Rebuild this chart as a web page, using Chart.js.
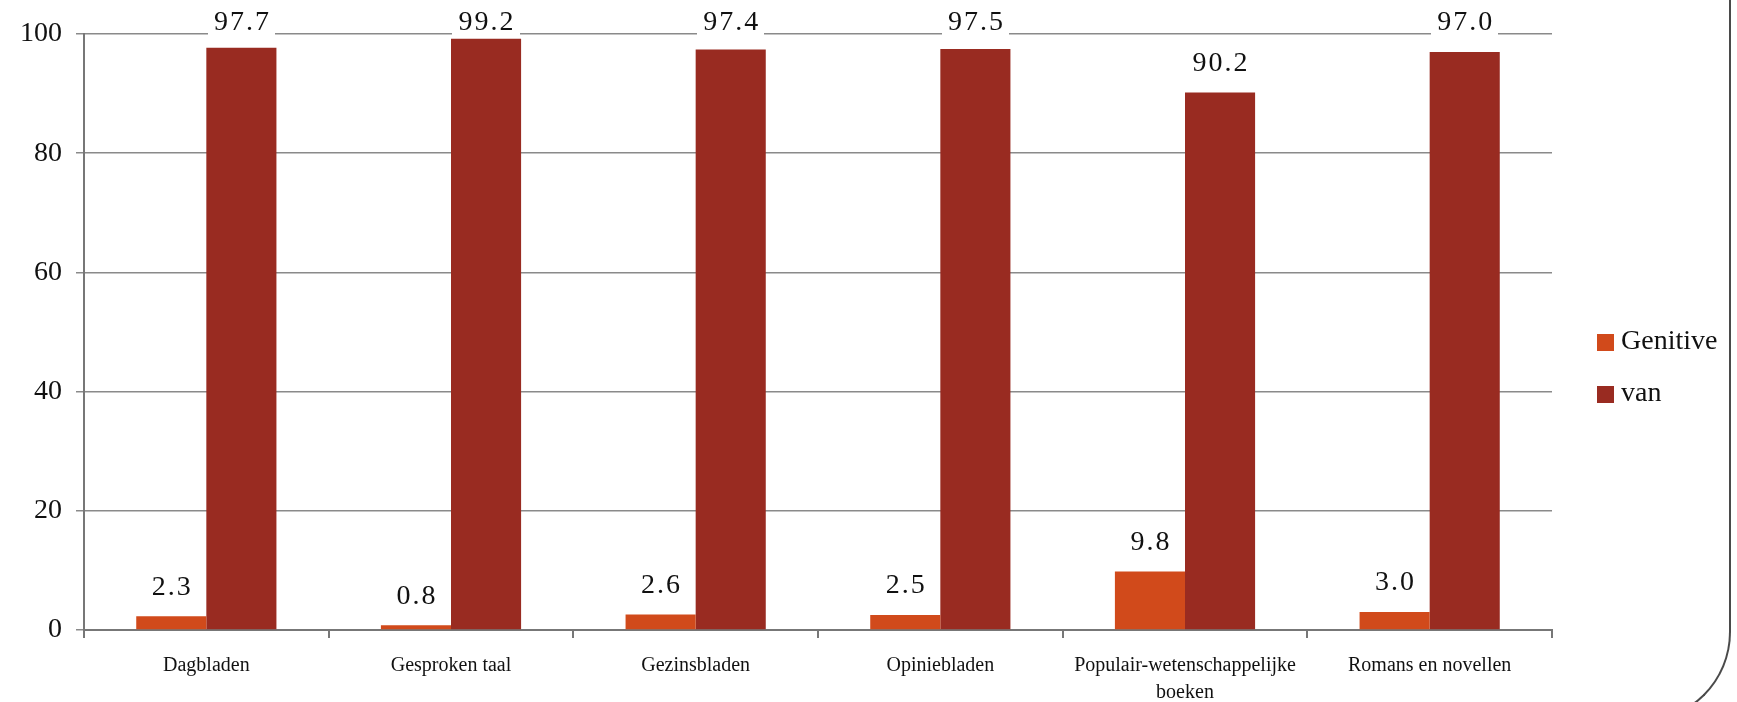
<!DOCTYPE html>
<html>
<head>
<meta charset="utf-8">
<script src="https://cdn.jsdelivr.net/npm/chart.js@4.4.1/dist/chart.umd.min.js"></script>
<style>
  html, body { margin: 0; padding: 0; background: #fff; overflow: hidden; }
  #wrap { position: relative; width: 1737px; height: 702px; }
  #frame {
    position: absolute; left: 1500px; top: -10px; width: 229px; height: 730px;
    border-right: 2px solid #4a4a4a; border-bottom: 2px solid #4a4a4a;
    border-bottom-right-radius: 90px; pointer-events: none;
  }
</style>
</head>
<body>
<div id="wrap">
  <canvas id="chart"></canvas>
  <div id="frame"></div>
</div>
<script>
// Share of genitive vs. "van" constructions per text genre (%)
const categories = ['Dagbladen', 'Gesproken taal', 'Gezinsbladen', 'Opiniebladen',
                    ['Populair-wetenschappelijke', 'boeken'], 'Romans en novellen'];
const genitive = [2.3, 0.8, 2.6, 2.5, 9.8, 3.0];
const van = [97.7, 99.2, 97.4, 97.5, 90.2, 97.0];
const yTicks = [0, 20, 40, 60, 80, 100];

const SERIF = '"Liberation Serif", "DejaVu Serif", serif';

// value above each bar, on a white box that cuts through the gridlines
const valueLabels = {
  id: 'valueLabels',
  afterDatasetsDraw(chart) {
    const ctx = chart.ctx;
    ctx.save();
    ctx.font = '28px ' + SERIF;
    ctx.letterSpacing = '2px';
    ctx.textAlign = 'center';
    ctx.textBaseline = 'middle';
    chart.data.datasets.forEach((ds, i) => {
      chart.getDatasetMeta(i).data.forEach((bar, j) => {
        const y = Math.max(bar.y - 29, 23);
        const left = Math.ceil(bar.x - bar.width / 2) + 1;
        const right = Math.floor(bar.x + bar.width / 2) - 1;
        ctx.fillStyle = '#fff';
        ctx.fillRect(left, y - 15, right - left, 30);
        ctx.fillStyle = '#111';
        ctx.fillText(ds.data[j].toFixed(1), bar.x + 1, y);
      });
    });
    ctx.restore();
  }
};

// legend on the right, drawn by hand for exact placement
const sideLegend = {
  id: 'sideLegend',
  afterDraw(chart) {
    const ctx = chart.ctx;
    ctx.save();
    ctx.font = '28px ' + SERIF;
    ctx.textBaseline = 'middle';
    ctx.textAlign = 'left';
    chart.data.datasets.forEach((ds, i) => {
      const cy = 342 + i * 52;
      ctx.fillStyle = ds.backgroundColor;
      ctx.fillRect(1597, cy - 8, 17, 17);
      ctx.fillStyle = '#111';
      ctx.fillText(ds.label, 1621, cy);
    });
    ctx.restore();
  }
};

new Chart(document.getElementById('chart'), {
  type: 'bar',
  data: {
    labels: categories,
    datasets: [
      { label: 'Genitive', data: genitive, backgroundColor: '#d14a1b' },
      { label: 'van', data: van, backgroundColor: '#992b21' }
    ]
  },
  options: {
    responsive: true,
    maintainAspectRatio: false,
    animation: false,
    layout: { padding: { top: 34, right: 185, left: 0, bottom: 0 } },
    datasets: { bar: { categoryPercentage: 0.573, barPercentage: 1.0 } },
    plugins: {
      legend: { display: false },
      tooltip: { enabled: false }
    },
    scales: {
      x: {
        grid: { drawOnChartArea: false, drawTicks: true, tickLength: 8, color: '#777', lineWidth: 2 },
        border: { display: true, color: '#777', width: 2 },
        ticks: { color: '#111', font: { family: SERIF, size: 20, lineHeight: 1.35 }, padding: 14, maxRotation: 0 },
        afterFit: (scale) => { scale.height = 72; }
      },
      y: {
        min: 0, max: 100,
        afterBuildTicks: (scale) => { scale.ticks = yTicks.map(v => ({ value: v })); },
        grid: { color: '#8a8a8a', lineWidth: 1.5, tickLength: 8 },
        border: { display: true, color: '#777', width: 2 },
        ticks: { color: '#111', font: { family: SERIF, size: 28 }, padding: 14 },
        afterFit: (scale) => { scale.width = 84; }
      }
    }
  },
  plugins: [valueLabels, sideLegend]
});
</script>
</body>
</html>
